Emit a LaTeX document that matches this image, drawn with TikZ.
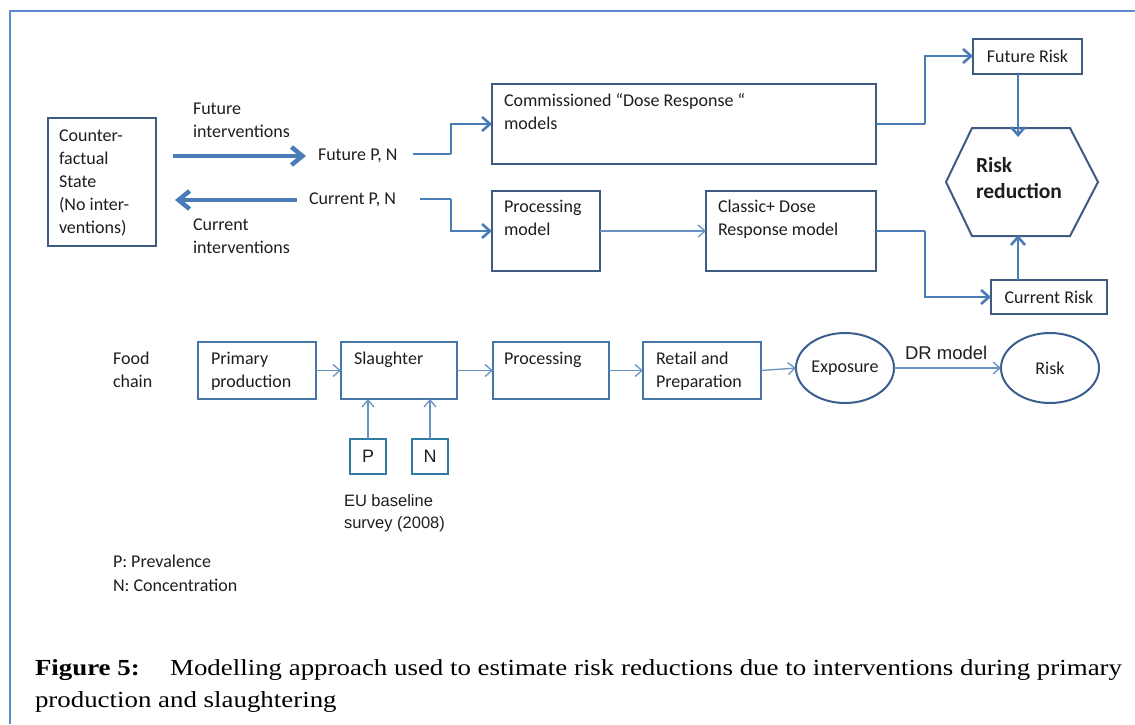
\documentclass[tikz,border=0pt]{standalone}
\usepackage{fontspec}
\setmainfont{Carlito}
\newfontfamily\arialfont{Liberation Sans}
\newfontfamily\timesfont{Liberation Serif}
\usetikzlibrary{arrows.meta,calc,shapes.geometric}

\definecolor{framecol}{HTML}{5B8BD0}
\definecolor{boxcol}{HTML}{3E5C82}
\definecolor{chaincol}{HTML}{4676A8}
\definecolor{ovalcol}{HTML}{3A5F8E}
\definecolor{pncol}{HTML}{2F7BA3}
\definecolor{linkcol}{HTML}{4A7DB8}
\definecolor{thincol}{HTML}{6A92C2}
\definecolor{txtcol}{HTML}{1E1E1E}

\newsavebox\capone
\newlength\caplen

\begin{document}
% caption line 1, measured so that both caption lines share one horizontal scale
\sbox\capone{\timesfont\fontsize{23}{32}\selectfont\textbf{Figure 5:}\hspace{26pt}Modelling approach used to estimate risk reductions due to interventions during primary}%
\setlength\caplen{\wd\capone}%
\pgfmathsetmacro\capw{\caplen}%
\pgfmathsetmacro\capsx{1087/\capw}%
\begin{tikzpicture}[x=1pt,y=-1pt,
  every node/.style={inner sep=0pt, outer sep=0pt, text=txtcol},
  lbl/.style={font=\fontsize{18}{22.8}\selectfont, align=left, anchor=north west},
  one/.style={font=\fontsize{18}{22.8}\selectfont, anchor=base west},
  blk/.style={draw=boxcol, line width=2pt},
  chain/.style={draw=chaincol, line width=2pt},
  oval/.style={draw=ovalcol, line width=2pt, ellipse, minimum width=98pt, minimum height=70pt},
  pnbox/.style={draw=pncol, line width=2pt, minimum width=36pt, minimum height=35pt,
    font=\arialfont\fontsize{18}{20}\selectfont},
  bigarrow/.style={draw=linkcol, line width=4.5pt, -{Straight Barb[length=11pt,width=18pt]}},
  bus/.style={draw=linkcol, line width=2.6pt},
  busarrow/.style={bus, -{Straight Barb[length=8pt,width=14pt]}},
  thin/.style={draw=thincol, line width=1.3pt, -{Straight Barb[length=7pt,width=12pt]}}
]
\useasboundingbox (0,0) rectangle (1135,724);

% page frame
\draw[framecol, line width=1.5pt] (10,724) -- (10,11) -- (1135,11);

% ---------- upper part: scenarios and models ----------
\node[blk, minimum width=108pt, minimum height=128pt] (cf) at (102,182) {};
\node[lbl] (cft) at (59,126) {\strut Counter-\\factual\\State\\(No inter-\\ventions)};

\node[lbl] (fi) at (193,99) {\strut Future\\interventions};
\node[one] (fpn) at (318,160) {Future P, N};
\node[one] (cpn) at (309,204) {Current P, N};
\node[lbl] (ci) at (193,215) {\strut Current\\interventions};

\coordinate (fa0) at (173,156);
\coordinate (fa1) at (306,156);
\coordinate (ca0) at (297,200);
\coordinate (ca1) at (175,200);
\draw[bigarrow] (fa0) -- (fa1);
\draw[bigarrow] (ca0) -- (ca1);

\node[blk, minimum width=384pt, minimum height=80pt] (cm) at (684,124) {};
\node[lbl] (cmt) at (504,91) {\strut Commissioned ``Dose Response ``\\models};
\node[blk, minimum width=108pt, minimum height=80pt] (pm) at (546,231) {};
\node[lbl] (pmt) at (504,197) {\strut Processing\\model};
\node[blk, minimum width=170pt, minimum height=80pt] (cl) at (791,231) {};
\node[lbl] (clt) at (718,197) {\strut Classic+ Dose\\Response model};

% left bus
\coordinate (lb1) at (451,154);
\coordinate (lb2) at (451,199);
\draw[bus] (413,154) -- (lb1);
\draw[bus] (420,199) -- (lb2);
\draw[busarrow] (lb1) -- (lb1 |- cm.west) -- (cm.west);
\draw[busarrow] (lb2) -- (lb2 |- pm.west) -- (pm.west);
\draw[thin] (pm.east) -- (cl.west);

% risk side
\node[blk, minimum width=109pt, minimum height=35pt, font=\fontsize{18}{20}\selectfont] (fr) at (1027.5,56) {Future Risk};
\node[blk, minimum width=116pt, minimum height=34pt, font=\fontsize{18}{20}\selectfont] (cr) at (1049,297) {Current Risk};
\node[minimum width=152pt, minimum height=108pt] (hex) at (1022,182) {};
\draw[blk] (hex.west) -- ($(hex.north west)+(26,0)$) -- ($(hex.north east)+(-28,0)$)
  -- (hex.east) -- ($(hex.south east)+(-28,0)$) -- ($(hex.south west)+(26,0)$) -- cycle;
\node[lbl, font=\bfseries\fontsize{21.5}{26}\selectfont] (hext) at (976,154) {\strut Risk\\reduction};

\coordinate (rb) at (925,124);
\coordinate (rb2) at (925,231);
\draw[bus] (cm.east) -- (rb);
\draw[bus] (cl.east) -- (rb2);
\draw[busarrow] (rb) -- (rb |- fr.west) -- (fr.west);
\draw[busarrow] (rb2) -- (rb2 |- cr.west) -- (cr.west);
\draw[busarrow] ([xshift=-9.5pt]fr.south) -- ([xshift=-4pt,yshift=-9pt]hex.north);
\draw[busarrow] ([xshift=-31pt]cr.north) -- ([xshift=-4pt,yshift=1pt]hex.south);

% ---------- lower part: food chain ----------
\node[lbl] (fc) at (113,349) {\strut Food\\chain};
\node[chain, minimum width=118pt, minimum height=57pt] (pp) at (257,370.5) {};
\node[lbl] (ppt) at (211,349) {\strut Primary\\production};
\node[chain, minimum width=116pt, minimum height=57pt] (sl) at (399,370.5) {};
\node[lbl] (slt) at (354,349) {\strut Slaughter};
\node[chain, minimum width=116pt, minimum height=57pt] (pr) at (551,370.5) {};
\node[lbl] (prt) at (504,349) {\strut Processing};
\node[chain, minimum width=118pt, minimum height=57pt] (rp) at (702,370.5) {};
\node[lbl] (rpt) at (656,349) {\strut Retail and\\Preparation};
\node[oval, font=\fontsize{18}{20}\selectfont] (ex) at (845,368) {Exposure};
\node[oval, font=\fontsize{18}{20}\selectfont] (rk) at (1050,368) {Risk};

\draw[thin] (pp.east) -- (sl.west);
\draw[thin] (sl.east) -- (pr.west);
\draw[thin] (pr.east) -- (rp.west);
\draw[thin] (rp.east) -- (ex.west);
\draw[thin] (ex.east) -- (rk.west);
\node[anchor=base west, font=\arialfont\fontsize{18.5}{20}\selectfont] (drm) at (905,359) {DR model};

\node[pnbox] (p) at (368,456.5) {P};
\node[pnbox] (n) at (430,456.5) {N};
\draw[thin] (p.north) -- (p.north |- sl.south);
\draw[thin] (n.north) -- (n.north |- sl.south);
\node[lbl, font=\arialfont\fontsize{16.5}{22}\selectfont] (eu) at (344,490.6) {\strut EU baseline\\survey (2008)};

\node[lbl, font=\fontsize{18}{24}\selectfont] (key) at (113,551) {\strut P: Prevalence\\N: Concentration};

% ---------- caption ----------
\node[anchor=base west, text=black] (cap1) at (35,675) {\scalebox{\capsx}[1]{\usebox\capone}};
\node[anchor=base west, text=black] (cap2) at (35,707) {\scalebox{\capsx}[1]{\timesfont\fontsize{23}{32}\selectfont production and slaughtering}};
\end{tikzpicture}
\end{document}
